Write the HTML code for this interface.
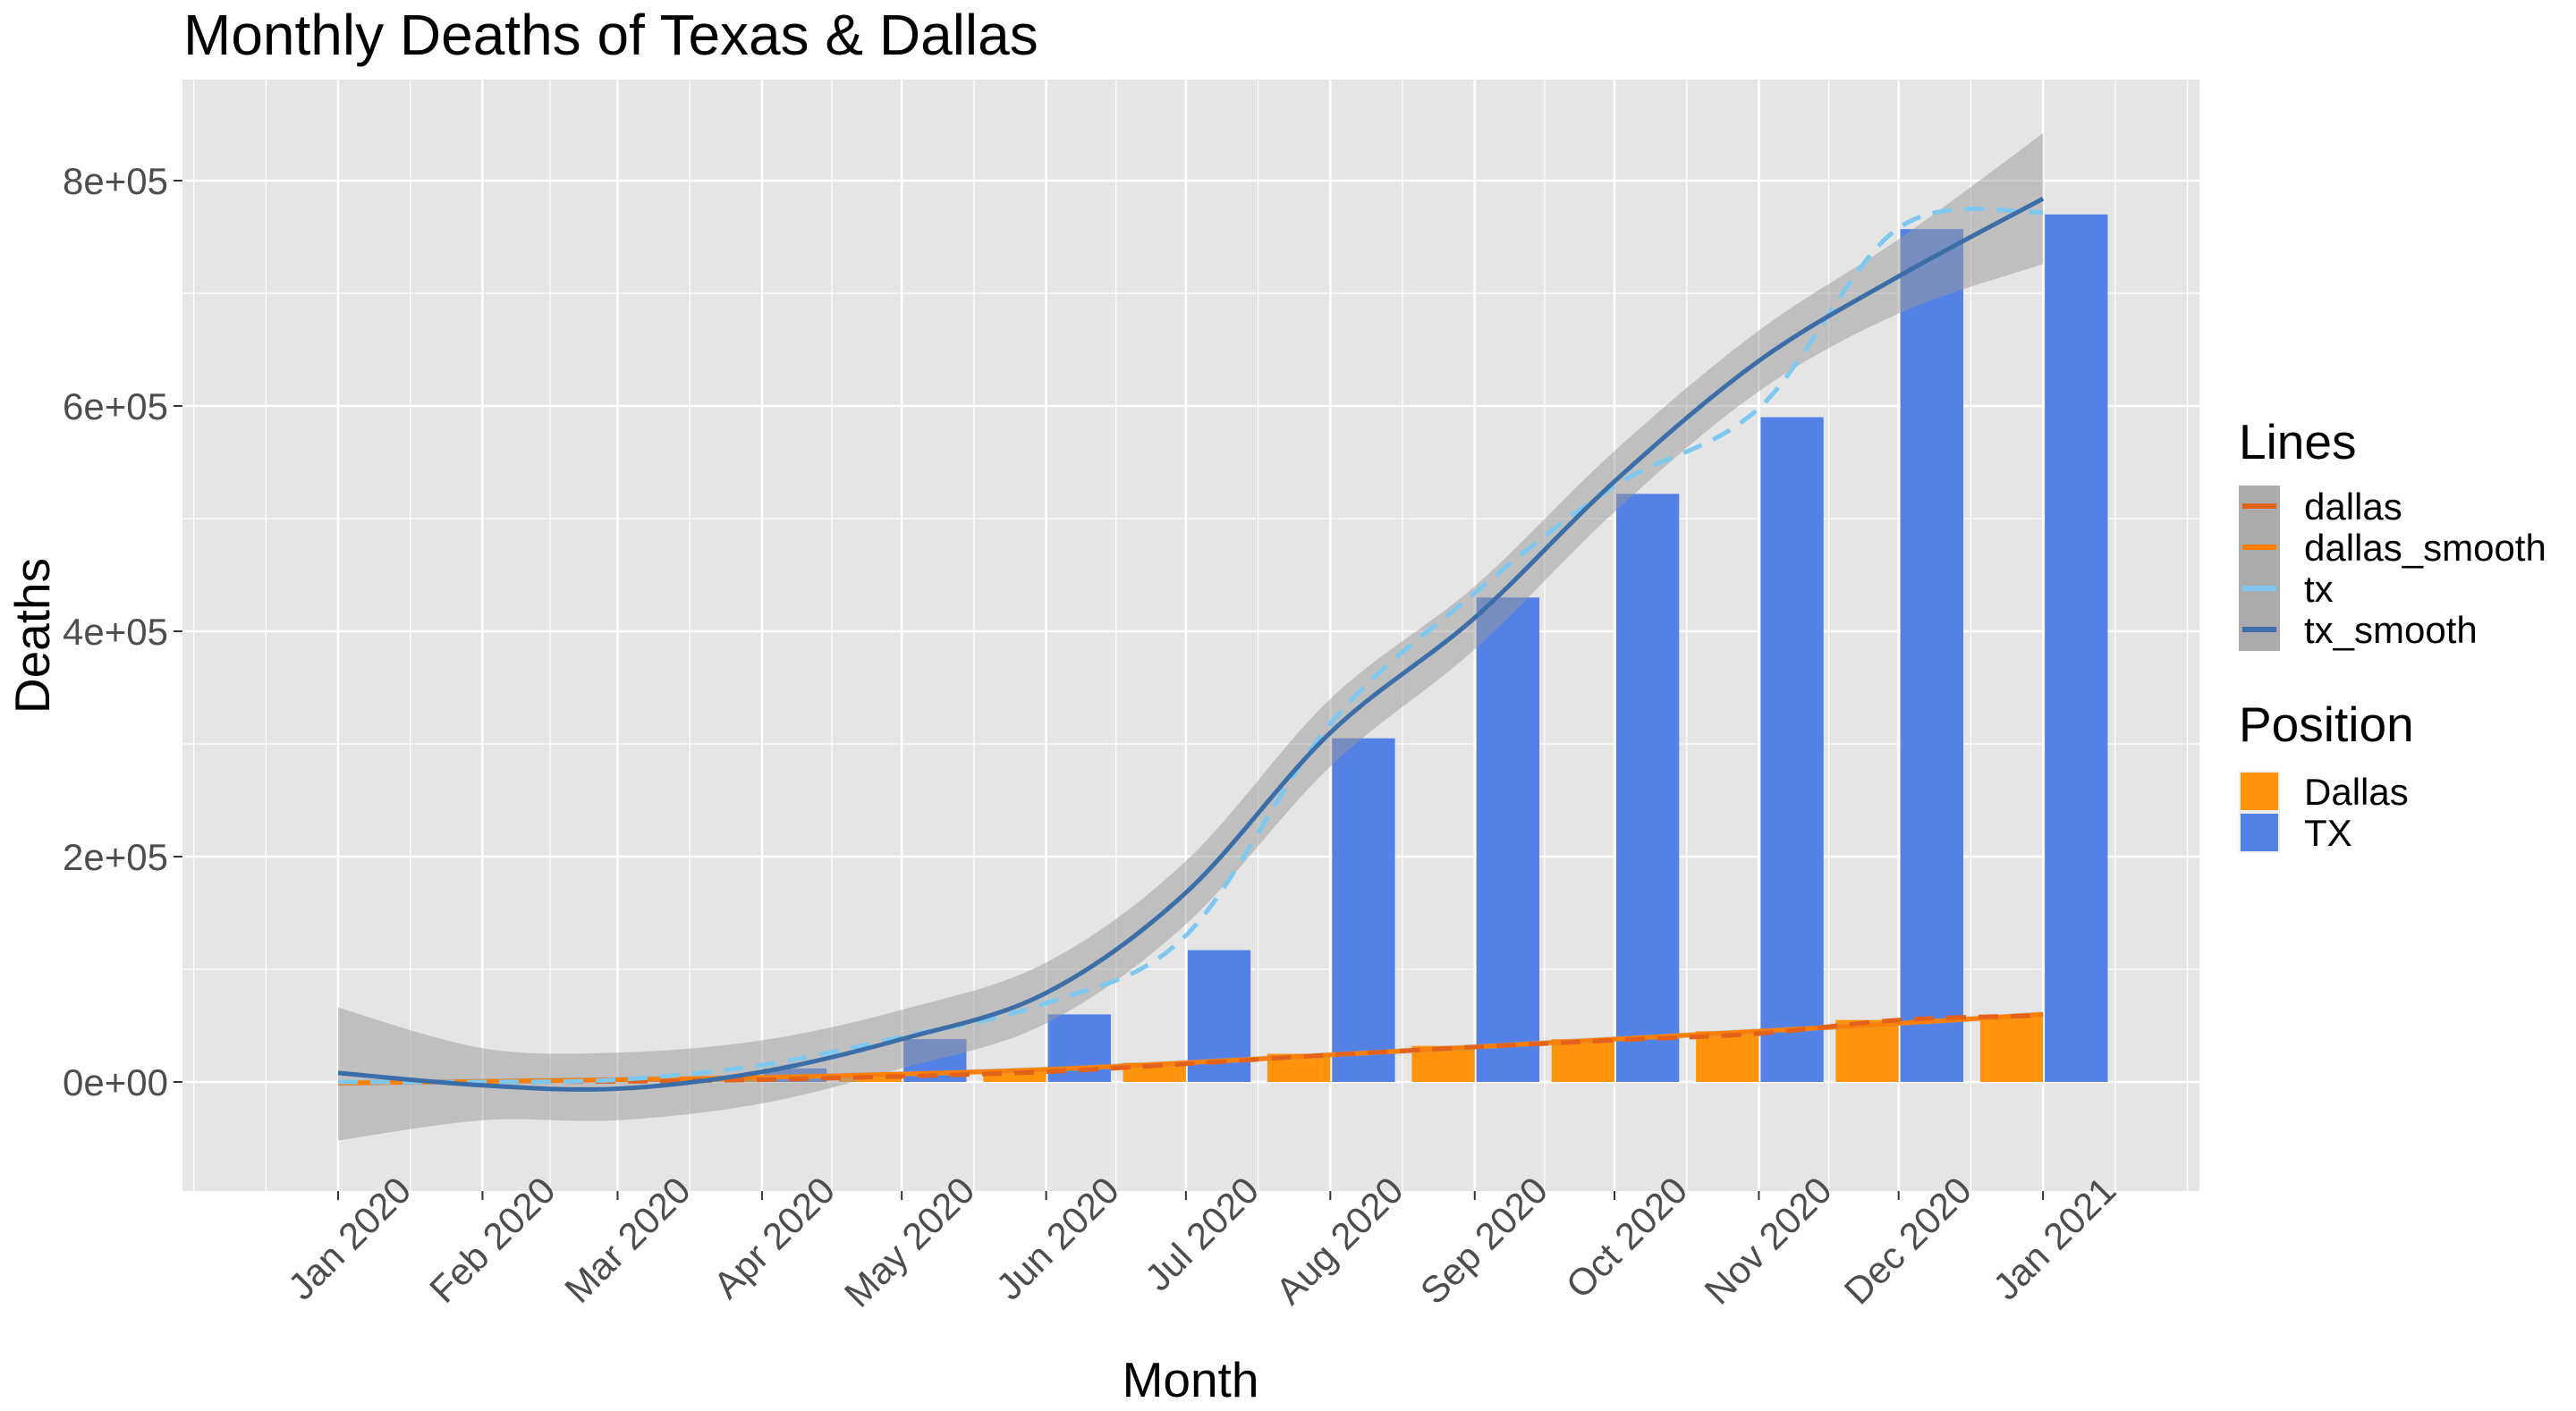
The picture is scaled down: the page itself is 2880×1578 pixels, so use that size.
<!DOCTYPE html>
<html><head><meta charset="utf-8"><style>
html,body{margin:0;padding:0;background:#fff;}
svg{display:block;font-family:"Liberation Sans",Arial,sans-serif;}
</style></head><body>
<svg id="chart" width="2880" height="1578" viewBox="0 0 2880 1578"></svg>
<script>
const categories=["2020-01","2020-02","2020-03","2020-04","2020-05","2020-06","2020-07","2020-08","2020-09","2020-10","2020-11","2020-12","2021-01"];
const tickLabels=["Jan 2020","Feb 2020","Mar 2020","Apr 2020","May 2020","Jun 2020","Jul 2020","Aug 2020","Sep 2020","Oct 2020","Nov 2020","Dec 2020","Jan 2021"];
const txBars=[0,0,1000,12000,38000,60000,117000,305000,430000,522000,590000,757000,770000];
const dallasBars=[0,0,500,3000,6000,10000,17000,25000,32000,38000,45000,55000,58000];
const txLine=[0,0,2000,15000,40000,70000,130000,318000,434000,529000,598000,758000,772000];
const txSmooth=[8000,-3000,-6000,9000,38000,79000,168000,310000,412000,533000,640000,715000,784000];
const txLower=[-52000,-34000,-34000,-19000,12000,52000,140000,280000,384000,506000,613000,682000,726000];
const txUpper=[66000,30000,26000,37000,64000,106000,196000,340000,440000,560000,667000,748000,842000];
const dallasLine=[0,0,500,2000,5000,9000,16000,24000,31000,37000,43000,55000,59000];
const dallasSmooth=[-1000,500,2000,4000,7000,11000,17000,24000,31000,38000,45000,52000,60000];
const yTicks=[0,200000,400000,600000,800000];
const yTickLabels=["0e+00","2e+05","4e+05","6e+05","8e+05"];

const NS="http://www.w3.org/2000/svg";
const svg=document.getElementById('chart');
const P={l:204,r:2459,t:89,b:1332};
const DAY=86400000;
const t0=Date.UTC(2020,0,1);
function dayOf(c){const [y,m]=c.split('-').map(Number);return (Date.UTC(y,m-1,1)-t0)/DAY;}
function xs(d){return 378+d*5.208;}
function ys(v){return 1210-v*(252/200000);}
function mk(tag,attrs,parent){const e=document.createElementNS(NS,tag);for(const k in attrs)e.setAttribute(k,attrs[k]);(parent||svg).appendChild(e);return e;}
function catmull(pts){let d="M"+pts[0][0]+","+pts[0][1];for(let i=0;i<pts.length-1;i++){const p0=pts[Math.max(0,i-1)],p1=pts[i],p2=pts[i+1],p3=pts[Math.min(pts.length-1,i+2)];const c1=[p1[0]+(p2[0]-p0[0])/6,p1[1]+(p2[1]-p0[1])/6],c2=[p2[0]-(p3[0]-p1[0])/6,p2[1]-(p3[1]-p1[1])/6];d+=" C"+c1[0]+","+c1[1]+" "+c2[0]+","+c2[1]+" "+p2[0]+","+p2[1];}return d;}

let title=mk('text',{x:205,y:61,'font-size':64,fill:'#000'});title.textContent="Monthly Deaths of Texas & Dallas";



const panel=mk('rect',{x:P.l,y:P.t,width:P.r-P.l,height:P.b-P.t,fill:'#E5E5E5'});


const grid=mk('g',{});


[100000,300000,500000,700000].forEach(v=>{mk('line',{x1:P.l,x2:P.r,y1:ys(v),y2:ys(v),stroke:'#fff','stroke-width':1.3},grid);});
yTicks.forEach(v=>{mk('line',{x1:P.l,x2:P.r,y1:ys(v),y2:ys(v),stroke:'#fff','stroke-width':2.6},grid);});
const days=categories.map(dayOf);
const allDays=[-31].concat(days).concat([days[days.length-1]+31]);
for(let i=0;i<allDays.length-1;i++){const m=(allDays[i]+allDays[i+1])/2;mk('line',{x1:xs(m),x2:xs(m),y1:P.t,y2:P.b,stroke:'#fff','stroke-width':1.3},grid);}
mk('line',{x1:xs(-31),x2:xs(-31),y1:P.t,y2:P.b,stroke:'#fff','stroke-width':1.3},grid);
mk('line',{x1:xs(allDays[allDays.length-1]),x2:xs(allDays[allDays.length-1]),y1:P.t,y2:P.b,stroke:'#fff','stroke-width':1.3},grid);
days.forEach(d=>{mk('line',{x1:xs(d),x2:xs(d),y1:P.t,y2:P.b,stroke:'#fff','stroke-width':2.6},grid);});

const BW=13.5;
categories.forEach((c,i)=>{
  const d=days[i];
  const b1=mk('rect',{x:xs(d-BW),y:Math.min(ys(dallasBars[i]),ys(0)),width:xs(d)-xs(d-BW),height:Math.abs(ys(0)-ys(dallasBars[i])),fill:'#FF930C'});
  
  
  const b2=mk('rect',{x:xs(d)+2,y:Math.min(ys(txBars[i]),ys(0)),width:xs(d+BW)-xs(d),height:Math.abs(ys(0)-ys(txBars[i])),fill:'#5481E6'});
  
  
});

const up=days.map((d,i)=>[xs(d),ys(txUpper[i])]);
const lo=days.map((d,i)=>[xs(d),ys(txLower[i])]).reverse();
const rib=mk('path',{d:catmull(up)+" L"+catmull(lo).slice(1)+" Z",fill:'#999','fill-opacity':0.5});


const dup=days.map((d,i)=>[xs(d),ys(dallasSmooth[i]+2500)]);
const dlo=days.map((d,i)=>[xs(d),ys(dallasSmooth[i]-2500)]).reverse();
const drib=mk('path',{d:catmull(dup)+" L"+catmull(dlo).slice(1)+" Z",fill:'#999','fill-opacity':0.4});



function line(arr,color,dash,name,w){
  const pts=days.map((d,i)=>[xs(d),ys(arr[i])]);
  const p=mk('path',{d:catmull(pts),fill:'none',stroke:color,'stroke-width':w||5,'stroke-dasharray':dash||'none'});
  
  
}
line(dallasSmooth,'#FF7F00',null,'dallas-smooth-line');
line(dallasLine,'#E2621B','22 14','dallas-line');
line(txLine,'#7EC8F0','22 14','tx-line');
line(txSmooth,'#3B6EA8',null,'tx-smooth-line');

const yax=mk('g',{});


yTicks.forEach((v,i)=>{
  mk('line',{x1:194,x2:204,y1:ys(v),y2:ys(v),stroke:'#333','stroke-width':2},yax);
  const t=mk('text',{x:188,y:ys(v)+15,'font-size':42,fill:'#4D4D4D','text-anchor':'end'},yax);t.textContent=yTickLabels[i];
});
const xax=mk('g',{});


days.forEach((d,i)=>{
  const x=xs(d);
  mk('line',{x1:x,x2:x,y1:P.b,y2:P.b+10,stroke:'#333','stroke-width':2},xax);
  const t=mk('text',{x:0,y:0,'font-size':42,fill:'#4D4D4D','text-anchor':'end',transform:`translate(${x+84},${1334}) rotate(-45)`},xax);
  t.textContent=tickLabels[i];
});
const xt=mk('text',{x:1331,y:1562,'font-size':55,'text-anchor':'middle',fill:'#000'});xt.textContent="Month";


const yt=mk('text',{x:0,y:0,'font-size':55,'text-anchor':'middle',fill:'#000',transform:'translate(55,711) rotate(-90)'});yt.textContent="Deaths";



const lg=mk('g',{});


const lt=mk('text',{x:2503,y:513,'font-size':55,fill:'#000'},lg);lt.textContent="Lines";
mk('rect',{x:2503,y:543,width:46,height:185,fill:'#ABABAB'},lg);
const lineKeys=[["dallas","#E2621B"],["dallas_smooth","#FF7F00"],["tx","#7EC8F0"],["tx_smooth","#3B6EA8"]];
lineKeys.forEach((k,i)=>{
  const cy=566+i*46;
  const g=mk('g',{},lg);
  
  
  mk('line',{x1:2507,x2:2545,y1:cy,y2:cy,stroke:k[1],'stroke-width':6},g);
  const t=mk('text',{x:2576,y:cy+15,'font-size':42,fill:'#000'},g);t.textContent=k[0];
});
const lg2=mk('g',{});


const pt=mk('text',{x:2503,y:829,'font-size':55,fill:'#000'},lg2);pt.textContent="Position";
[["Dallas","#FF930C"],["TX","#5481E6"]].forEach((k,i)=>{
  const cy=885+i*46;
  const g=mk('g',{},lg2);
  
  
  mk('rect',{x:2504,y:cy-22,width:44,height:44,fill:k[1],stroke:'#eee','stroke-width':2},g);
  const t=mk('text',{x:2576,y:cy+15,'font-size':42,fill:'#000'},g);t.textContent=k[0];
});
</script>
</body></html>
